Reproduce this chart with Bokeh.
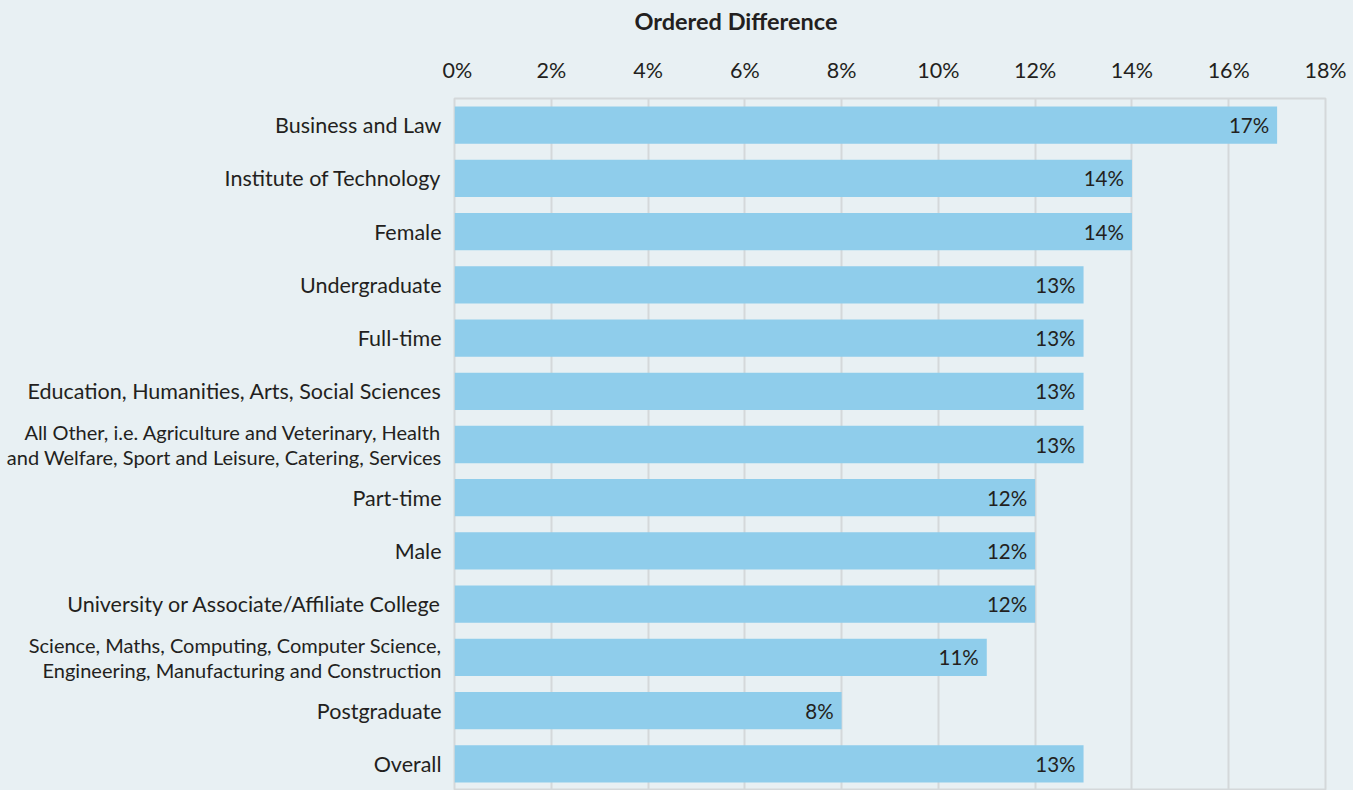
from bokeh.plotting import figure
from bokeh.layouts import row, column
from bokeh.models import ColumnDataSource, FactorRange, Range1d, FixedTicker, CustomJSTickFormatter
from bokeh.core.properties import value
from bokeh.embed import file_html
from bokeh.resources import INLINE

title_text = "Ordered Difference"
categories = [
    "Business and Law",
    "Institute of Technology",
    "Female",
    "Undergraduate",
    "Full-time",
    "Education, Humanities, Arts, Social Sciences",
    "All Other, i.e. Agriculture and Veterinary, Health\nand Welfare, Sport and Leisure, Catering, Services",
    "Part-time",
    "Male",
    "University or Associate/Affiliate College",
    "Science, Maths, Computing, Computer Science,\nEngineering, Manufacturing and Construction",
    "Postgraduate",
    "Overall",
]
values = [17, 14, 14, 13, 13, 13, 13, 12, 12, 12, 11, 8, 13]
x_ticks = [0, 2, 4, 6, 8, 10, 12, 14, 16, 18]

FONT = "Lato"
TEXT = "#231f20"
BG = "#e8f0f3"
BAR = "#8fcdeb"
GRID = "#d4d8da"

src = ColumnDataSource(dict(
    cat=categories,
    val=values,
    lab=[f"{v}%" for v in values],
    one=[1] * len(values),
    fs=["20px" if "\n" in c else "21.5px" for c in categories],
))

y_range = FactorRange(*reversed(categories), range_padding=0)
y_range.factor_padding = 0

W = 1353
TITLE_H = 40
H = 790 - TITLE_H
TOP = 98 - TITLE_H
LEFT_W = 442
GAP = 12


def base(fig):
    fig.background_fill_color = BG
    fig.border_fill_color = BG
    return fig


# title strip
tf = base(figure(
    width=W, height=TITLE_H, x_range=Range1d(0, W), y_range=Range1d(0, TITLE_H),
    output_backend="svg", toolbar_location=None,
    min_border_left=0, min_border_right=0, min_border_top=0, min_border_bottom=0,
))
tf.outline_line_color = None
tf.axis.visible = False
tf.grid.grid_line_color = None
tf.text(x=[634], y=[TITLE_H - 20], text=[title_text], text_align="left", text_baseline="middle",
        text_font=value(FONT), text_font_size="23.5px", text_font_style="bold", text_color=TEXT)

# left panel holding the category labels
lp = base(figure(
    width=LEFT_W, height=H, y_range=y_range, x_range=Range1d(0, 1),
    output_backend="svg", toolbar_location=None,
    min_border_left=0, min_border_right=0, min_border_top=TOP, min_border_bottom=0,
))
lp.outline_line_color = None
lp.axis.visible = False
lp.grid.grid_line_color = None
lp.text(x="one", y="cat", text="cat", source=src, x_offset=-1, text_align="right",
        text_baseline="middle", text_font=value(FONT), text_font_size="fs",
        text_color=TEXT, text_line_height=1.02)

# main bar chart
p = base(figure(
    width=W - LEFT_W, height=H,
    y_range=y_range,
    x_range=Range1d(0, 18),
    x_axis_location="above",
    output_backend="svg", toolbar_location=None,
    min_border_left=GAP, min_border_right=28, min_border_top=TOP, min_border_bottom=0,
))
p.outline_line_color = GRID
p.outline_line_width = 2

p.hbar(y="cat", right="val", left=0, height=0.7, source=src, fill_color=BAR, line_color=None)
p.text(x="val", y="cat", text="lab", source=src, x_offset=-8, text_align="right",
       text_baseline="middle", text_font=value(FONT), text_font_size="20.5px", text_color=TEXT)

xa = p.xaxis[0]
xa.ticker = FixedTicker(ticks=x_ticks)
xa.formatter = CustomJSTickFormatter(code="return tick + '%';")
xa.major_label_text_font = FONT
xa.major_label_text_font_size = "21.5px"
xa.major_label_text_color = TEXT
xa.major_label_standoff = 10
xa.axis_line_color = None
xa.major_tick_line_color = None
xa.minor_tick_line_color = None

p.yaxis.visible = False

p.xgrid.grid_line_color = GRID
p.xgrid.grid_line_width = 2
p.ygrid.grid_line_color = None

layout = column(tf, row(lp, p, spacing=0), spacing=0)
layout.styles = {"background-color": BG}

open("out.html", "w").write(file_html(layout, INLINE))
